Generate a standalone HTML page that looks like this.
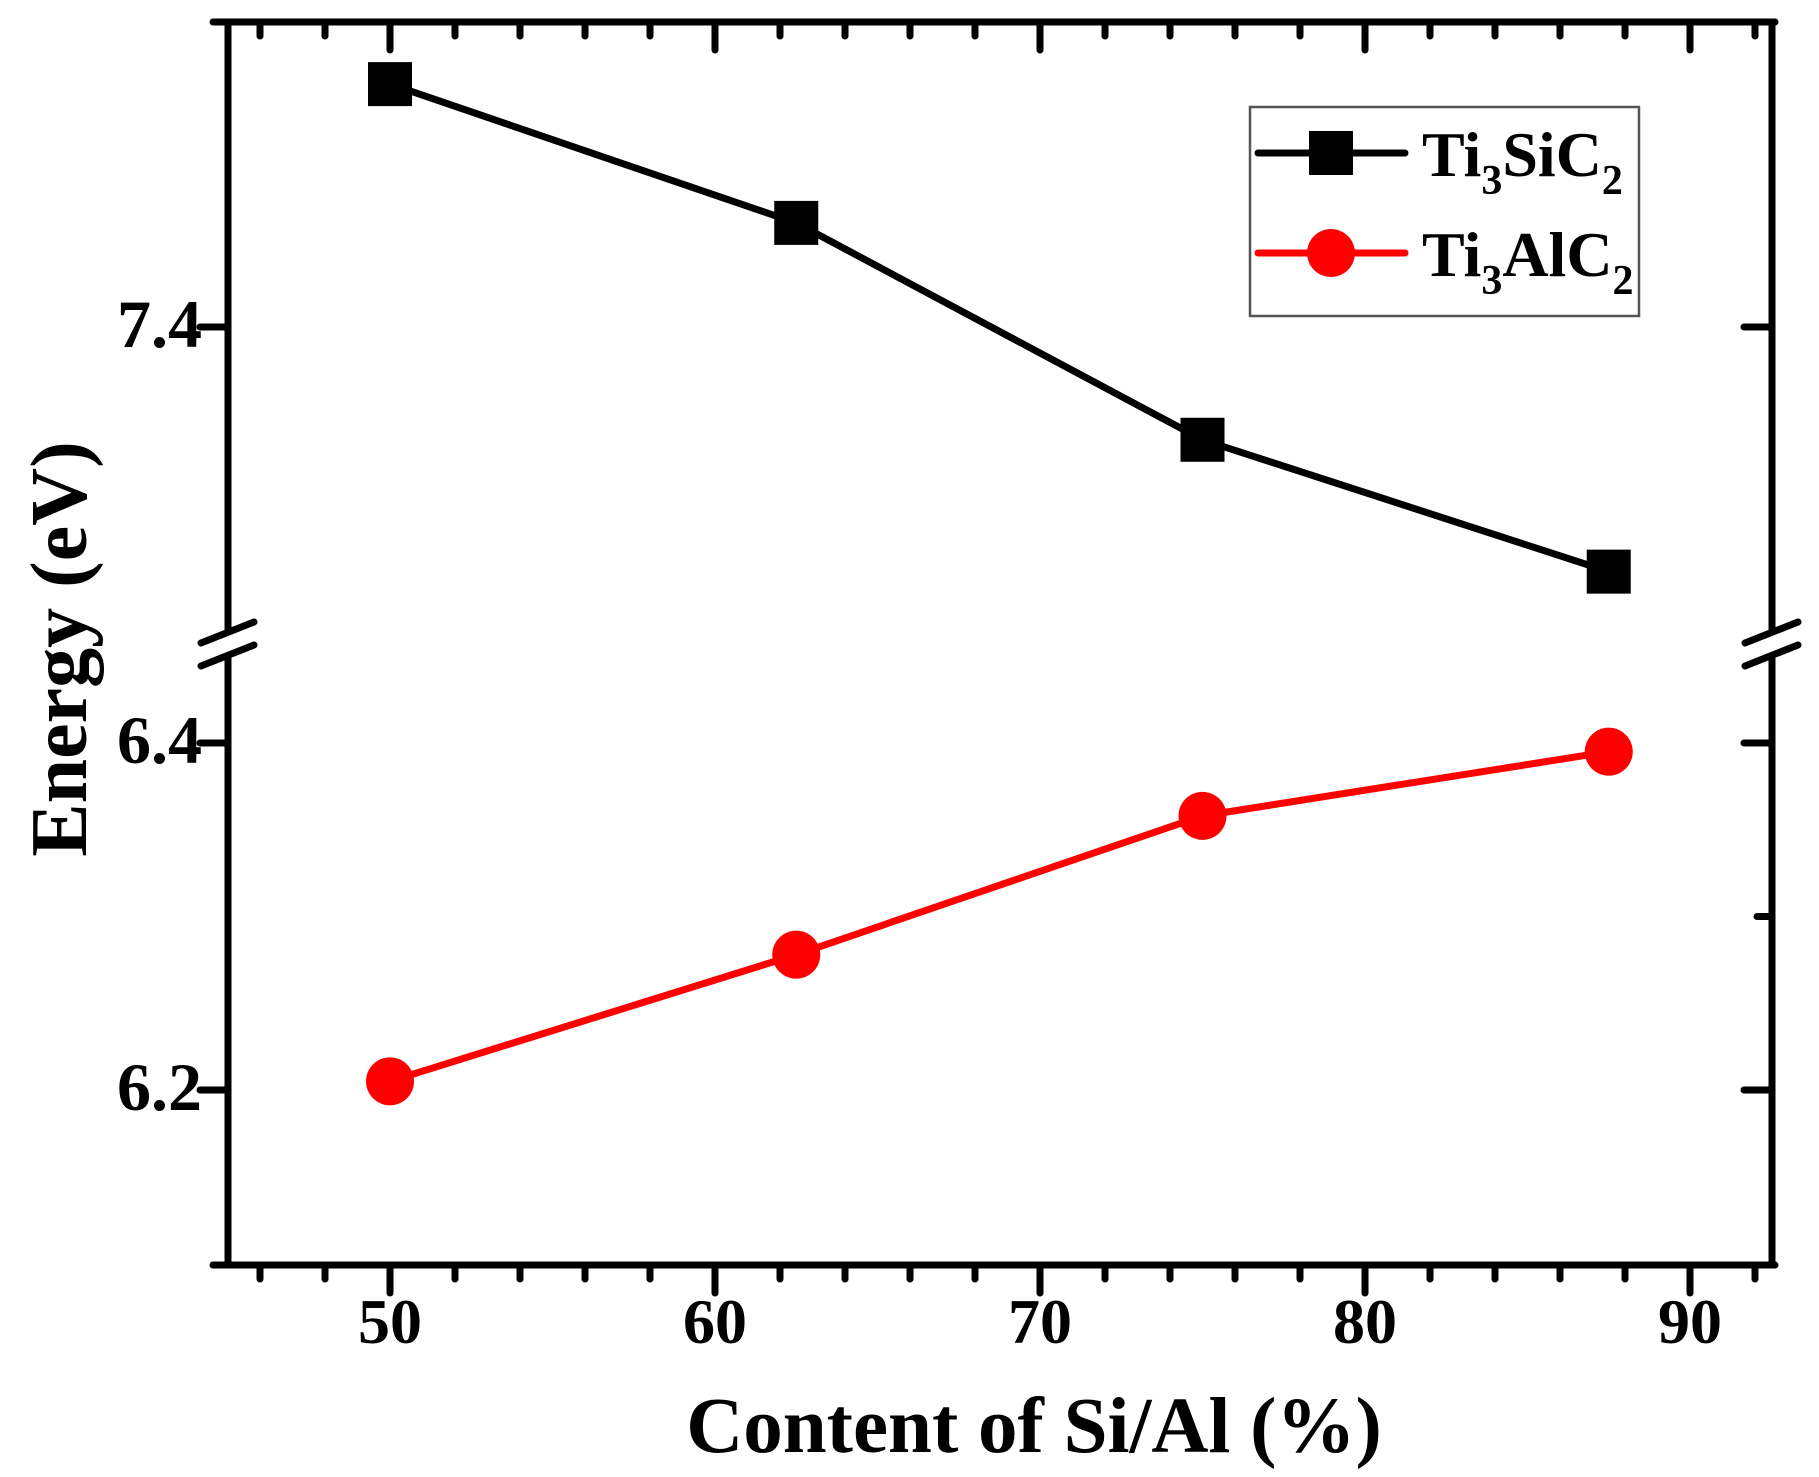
<!DOCTYPE html>
<html><head><meta charset="utf-8"><style>
html,body{margin:0;padding:0;background:#fff;}
svg{display:block;}
text{font-family:"Liberation Serif",serif;font-weight:bold;fill:#000;}
</style></head><body>
<svg id="chart" width="1819" height="1477" viewBox="0 0 1819 1477">
<g id="axes"></g>
<g id="series"></g>
<g id="legend">
  <rect x="1250" y="107" width="389" height="209" fill="#fff" stroke="#555" stroke-width="2.5"/>
  <g>
    <line x1="1258" y1="153" x2="1405" y2="153" stroke="#000" stroke-width="7" stroke-linecap="round"/>
    <rect x="1309" y="131" width="44" height="44" fill="#000"/>
    <text x="1422" y="176" font-size="64">Ti<tspan font-size="42" dy="18">3</tspan><tspan dy="-18">SiC</tspan><tspan font-size="42" dy="18">2</tspan></text>
  </g>
  <g>
    <line x1="1258" y1="253" x2="1405" y2="253" stroke="#f00" stroke-width="7" stroke-linecap="round"/>
    <circle cx="1331" cy="253" r="24" fill="#f00"/>
    <text x="1422" y="276" font-size="64">Ti<tspan font-size="42" dy="18">3</tspan><tspan dy="-18">AlC</tspan><tspan font-size="42" dy="18">2</tspan></text>
  </g>
</g>
<text x="1034" y="1452" font-size="79" text-anchor="middle">Content of Si/Al (%)</text>
<text transform="translate(86,649) rotate(-90)" font-size="80" text-anchor="middle">Energy (eV)</text>
</svg>
<script>
const categories = [50, 62.5, 75, 87.5];
const ti3sic2 = [7.54, 7.46, 7.335, 7.259];
const ti3alc2 = [6.205, 6.278, 6.358, 6.395];
const xTickLabels = [50, 60, 70, 80, 90];
const yTickLabelsUpper = ["7.4"];
const yTickLabelsLower = ["6.4", "6.2"];

const NS = "http://www.w3.org/2000/svg";
function el(tag, attrs, parent){const e=document.createElementNS(NS,tag);for(const k in attrs)e.setAttribute(k,attrs[k]);parent.appendChild(e);return e;}
const X = v => 390 + (v - 50) * 32.5;
const PER = 1735;
const Yu = v => 327 - (v - 7.4) * PER;
const Yl = v => 743 - (v - 6.4) * PER;
const Y = v => v >= 6.8 ? Yu(v) : Yl(v);

const axes = document.getElementById('axes');
const L = 228, R = 1772, T = 22, B = 1265;
const sw = 7;
let ln;
ln = el('line',{x1:213,y1:T,x2:R+3,y2:T,stroke:'#000','stroke-width':sw,'stroke-linecap':'round'},axes);
 
ln = el('line',{x1:213,y1:B,x2:R+3,y2:B,stroke:'#000','stroke-width':sw,'stroke-linecap':'round'},axes);
 
const breakTop = 632, breakBot = 655;
[L, R].forEach((ax, i) => {
  let a = el('line',{x1:ax,y1:T,x2:ax,y2:breakTop,stroke:'#000','stroke-width':sw},axes);
  
  
  let b = el('line',{x1:ax,y1:breakBot,x2:ax,y2:B,stroke:'#000','stroke-width':sw},axes);
  
  
  for (const off of [0, 23]) {
    let s = el('line',{x1:ax-27,y1:643+off,x2:ax+26,y2:622+off,stroke:'#000','stroke-width':sw,'stroke-linecap':'round'},axes);
    
    
  }
});
for (let v = 46; v <= 92; v += 2) {
  const major = v % 10 === 0;
  const len = major ? 28 : 14;
  let t = el('line',{x1:X(v),y1:B,x2:X(v),y2:B+len,stroke:'#000','stroke-width':sw,'stroke-linecap':'round'},axes);
   
  let t2 = el('line',{x1:X(v),y1:T,x2:X(v),y2:T+len,stroke:'#000','stroke-width':sw,'stroke-linecap':'round'},axes);
   
}
xTickLabels.forEach(v => {
  const t = el('text',{x:X(v),y:1343,'font-size':64,'text-anchor':'middle'},axes);
  t.textContent = v;
   
});
const yLabels = yTickLabelsUpper.concat(yTickLabelsLower);
yLabels.forEach(s => {
  const v = parseFloat(s), y = Y(v);
  let t = el('line',{x1:L-28,y1:y,x2:L,y2:y,stroke:'#000','stroke-width':sw,'stroke-linecap':'round'},axes);
   
  let r = el('line',{x1:R-28,y1:y,x2:R,y2:y,stroke:'#000','stroke-width':sw,'stroke-linecap':'round'},axes);
   
  const tx = el('text',{x:202,y:y+20,'font-size':68,'text-anchor':'end'},axes);
  tx.textContent = s;
   
});
let mt = el('line',{x1:R-15,y1:Yl(6.3),x2:R,y2:Yl(6.3),stroke:'#000','stroke-width':sw,'stroke-linecap':'round'},axes);
 

const sg = document.getElementById('series');
function drawSeries(vals, color, shape, name){
  const g = el('g',{},sg);
  
  
  const pts = categories.map((c,i)=>X(c)+','+Y(vals[i])).join(' ');
  const pl = el('polyline',{points:pts,fill:'none',stroke:color,'stroke-width':7,'stroke-linejoin':'round'},g);
   
  categories.forEach((c,i)=>{
    let m;
    if (shape === 'square') m = el('rect',{x:X(c)-22,y:Y(vals[i])-22,width:44,height:44,fill:color},g);
    else m = el('circle',{cx:X(c),cy:Y(vals[i]),r:24,fill:color},g);
     
  });
}
drawSeries(ti3sic2,'#000','square','ti3sic2-series');
drawSeries(ti3alc2,'#f00','circle','ti3alc2-series');
</script>
</body></html>
